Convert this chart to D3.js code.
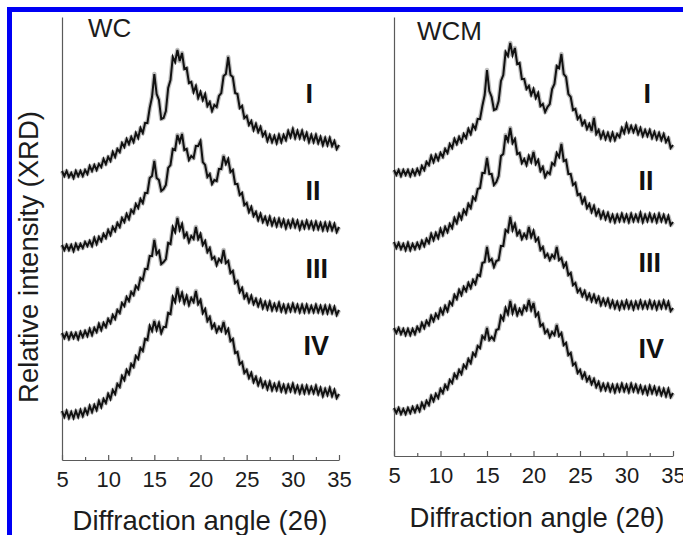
<!DOCTYPE html>
<html>
<head>
<meta charset="utf-8">
<script src="https://cdn.jsdelivr.net/npm/d3@7"></script>
<style>
  body { margin: 0; background: #fff; }
  svg { display: block; }
</style>
</head>
<body>
<div id="chart-container"></div>
<script>
// =====================
// Data (a.u.)
// =====================
// sampling grid of the patterns, 2θ in degrees
const ANGLES = d3.range(5, 35.0001, 0.25);

const SAMPLES = ["I", "II", "III", "IV"];
// vertical stacking offset of each pattern
const OFFSETS = [280, 210, 120, 40];

const X_TICKS = [5, 10, 15, 20, 25, 30, 35];
const X_MINOR = [7.5, 12.5, 17.5, 22.5, 27.5, 32.5];

// WC panel
const WC_I = [9,4,9,3,7,2,9,4,9,4, 10,6,14,9,15,10,16,13,21,16,
  23,19,28,23,31,28,37,33,41,36, 43,38,47,42,52,47,57,57,72,83,
  106,86,80,61,62,69,92,100,123,118, 130,119,127,111,112,97,98,88,94,82,
  88,80,86,74,78,69,75,73,84,87, 104,106,123,105,103,87,86,72,74,62,
  64,55,59,50,56,48,53,44,48,39, 45,38,44,37,45,38,45,40,49,43,
  51,42,49,42,49,41,47,38,45,38, 45,37,43,35,42,35,42,34,39,31, 35];
const WC_II = [5,0,5,0,5,-1,6,1,6,2, 8,4,9,4,12,6,13,9,16,12,
  20,15,23,19,27,23,32,28,36,31, 40,37,46,42,51,47,57,57,72,74,
  89,72,70,59,61,65,82,85,101,100, 115,108,116,100,101,90,94,92,104,104,
  109,88,85,73,76,66,70,69,81,81, 94,86,91,78,80,66,66,55,57,45,
  47,38,43,34,38,30,36,28,33,26, 33,25,31,24,31,24,30,22,29,23,
  30,23,29,21,28,22,29,22,28,21, 28,21,27,20,27,20,27,20,26,18, 23];
const WC_III = [7,2,7,1,7,2,7,1,8,3, 9,4,11,5,12,8,16,10,17,13,
  21,17,25,21,30,27,37,34,43,39, 48,45,54,51,62,60,71,71,84,84,
  100,86,89,76,78,81,97,96,113,108, 122,110,116,103,107,98,104,101,113,101,
  106,95,99,88,92,81,83,75,81,78, 90,77,79,67,69,57,59,48,52,42,
  46,38,44,36,41,34,40,32,38,31, 38,30,36,30,37,29,35,28,35,29,
  36,29,35,28,35,28,35,28,34,28, 35,28,34,27,34,27,34,27,33,25, 30];
const WC_IV = [9,3,9,2,8,2,9,3,10,4, 11,6,14,8,15,10,19,13,21,17,
  26,21,30,26,36,33,44,40,50,46, 56,53,64,61,72,69,81,80,94,89,
  99,90,97,87,93,93,107,106,123,118, 132,120,127,117,124,115,122,118,129,116,
  120,107,111,99,103,92,96,88,93,89, 98,87,91,79,81,67,68,56,58,47,
  50,42,47,38,43,35,41,33,38,31, 38,30,36,30,37,29,35,28,35,29,
  36,28,34,27,34,27,34,27,33,27, 34,26,32,24,31,25,32,24,30,22, 26];

// WCM panel
const WCM_I = [6,1,6,0,6,1,6,0,6,1, 7,2,10,6,14,11,20,14,21,16,
  23,19,27,23,32,28,37,32,39,34, 42,38,47,42,51,47,57,57,70,81,
  106,85,79,66,67,75,95,101,124,120, 133,121,128,112,113,97,97,87,90,81,
  87,78,83,70,72,64,69,72,87,92, 110,108,122,102,99,82,79,66,67,57,
  60,51,55,47,52,45,58,42,46,38, 44,37,43,36,43,36,42,39,48,43,
  52,44,50,44,50,42,48,40,46,40, 46,38,44,37,43,36,42,34,38,28, 31];
const WCM_II = [4,-2,3,-3,2,-4,3,-4,2,-3, 3,-2,5,0,7,3,12,6,13,8,
  17,11,19,14,22,18,28,23,32,27, 36,32,42,38,49,46,57,58,73,73,
  88,72,72,61,64,70,90,92,111,105, 118,103,107,92,93,83,87,81,90,84,
  94,82,86,75,79,69,74,72,83,81, 93,89,102,85,86,72,72,61,63,51,
  52,43,48,38,42,34,40,31,36,28, 34,27,33,25,31,24,31,25,32,25,
  31,24,32,25,31,25,33,24,31,25, 32,25,31,24,32,25,31,24,30,21, 24];
const WCM_III = [8,3,8,2,7,1,7,1,7,2, 9,5,13,8,15,11,20,15,22,18,
  27,22,30,25,34,31,41,37,46,41, 49,45,53,48,56,52,61,60,73,74,
  89,75,77,69,75,76,90,90,106,104, 119,106,112,101,105,97,102,98,109,99,
  105,95,98,86,89,79,82,76,81,78, 89,76,78,69,73,61,63,51,53,44,
  47,40,45,37,42,35,41,34,39,31, 37,31,37,29,35,28,34,27,34,28,
  35,28,34,27,34,28,35,28,34,28, 35,28,34,27,34,28,35,28,34,25, 28];
const WCM_IV = [8,3,8,2,7,2,8,3,9,4, 10,5,13,8,15,11,20,15,22,18,
  27,23,31,27,36,33,42,38,46,42, 51,48,57,53,63,60,70,68,80,77,
  88,76,79,76,86,87,100,96,108,102, 115,103,110,101,107,102,110,106,116,106,
  113,100,103,90,92,83,86,79,84,81, 91,80,83,71,73,61,63,51,53,43,
  46,38,43,35,39,32,37,29,34,26, 32,26,32,25,31,24,31,25,32,25,
  31,24,32,25,31,24,30,23,29,22, 30,23,29,22,28,21,27,20,27,19, 23];

// sample label anchors (2θ, a.u.)
const WC_LABEL_AT = [[31.37, 357], [31.37, 260], [31.37, 182], [31.15, 105]];
const WCM_LABEL_AT = [[31.83, 353], [31.29, 266], [31.29, 184], [31.29, 98]];

const X_LABEL = "Diffraction angle (2\u03b8)";
const Y_LABEL = "Relative intensity (XRD)";

// =====================
// Layout
// =====================
const svgWidth = 683;
const svgHeight = 535;
const FONT = "'Liberation Sans', Arial, Helvetica, sans-serif";
const INK = "#1c1c1c";

const panels = [
  { name: "WC", series: [WC_I, WC_II, WC_III, WC_IV], labels: WC_LABEL_AT,
    left: 62, right: 339, bottom: 460, top: 17, yMax: 443,
    nameX: 88, nameY: 37, titleX: 200, titleY: 530 },
  { name: "WCM", series: [WCM_I, WCM_II, WCM_III, WCM_IV], labels: WCM_LABEL_AT,
    left: 394, right: 673, bottom: 456, top: 17, yMax: 439,
    nameX: 417, nameY: 40, titleX: 537, titleY: 527 }
];

const container = d3.select("#chart-container");
const svg = container.append("svg")
  .attr("width", svgWidth)
  .attr("height", svgHeight)
  .style("font-family", FONT);

svg.append("rect")
  .attr("width", svgWidth).attr("height", svgHeight)
  .attr("fill", "#fff");

// blue frame (top and left edges only, the rest is cropped)
svg.append("rect")
  .attr("x", 7).attr("y", 7)
  .attr("width", svgWidth - 7).attr("height", 5)
  .attr("fill", "#0000f5");
svg.append("rect")
  .attr("x", 7).attr("y", 7)
  .attr("width", 5).attr("height", svgHeight - 7)
  .attr("fill", "#0000f5");

// y label, shared
svg.append("text")
  .attr("transform", "translate(38,257) rotate(-90)")
  .attr("text-anchor", "middle")
  .attr("font-size", 27.5)
  .attr("fill", INK)
  .text(Y_LABEL);

panels.forEach(p => {
  const x = d3.scaleLinear().domain([5, 35]).range([p.left, p.right]);
  const y = d3.scaleLinear().domain([0, p.yMax]).range([p.bottom, p.top]);

  const g = svg.append("g");

  // axes
  const minor = g.append("g")
    .attr("transform", `translate(0,${p.bottom})`)
    .call(d3.axisBottom(x).tickValues(X_MINOR).tickSize(-3).tickSizeOuter(0).tickFormat(""));
  minor.select(".domain").remove();

  const major = g.append("g")
    .attr("transform", `translate(0,${p.bottom})`)
    .call(d3.axisBottom(x).tickValues(X_TICKS).tickSize(-5).tickSizeOuter(0).tickPadding(11));

  g.append("g")
    .attr("transform", `translate(${p.left},0)`)
    .call(d3.axisLeft(y).tickValues([]).tickSizeOuter(0));

  g.selectAll(".domain, .tick line")
    .attr("stroke", "#5a5a5a")
    .attr("stroke-width", 1.2);

  major.selectAll("text")
    .attr("font-size", 22)
    .attr("font-family", FONT)
    .attr("fill", INK);

  // x title
  g.append("text")
    .attr("x", p.titleX)
    .attr("y", p.titleY)
    .attr("text-anchor", "middle")
    .attr("font-size", 27.5)
    .attr("fill", INK)
    .text(X_LABEL);

  // panel name
  g.append("text")
    .attr("x", p.nameX)
    .attr("y", p.nameY)
    .attr("font-size", 26)
    .attr("fill", INK)
    .text(p.name);

  // patterns: grey halo under a dark trace, like the noisy scan band
  p.series.forEach((vals, i) => {
    const line = d3.line()
      .x((d, j) => x(ANGLES[j]))
      .y(d => y(d + OFFSETS[i]));
    g.append("path")
      .datum(vals)
      .attr("d", line)
      .attr("fill", "none")
      .attr("stroke", "#8a8a8a")
      .attr("stroke-opacity", 0.55)
      .attr("stroke-width", 4.5)
      .attr("stroke-linejoin", "round");
    g.append("path")
      .datum(vals)
      .attr("d", line)
      .attr("fill", "none")
      .attr("stroke", "#111")
      .attr("stroke-width", 2)
      .attr("stroke-linejoin", "miter");
  });

  // sample labels
  g.selectAll("text.sample")
    .data(SAMPLES)
    .join("text")
    .attr("class", "sample")
    .attr("x", (d, i) => x(p.labels[i][0]))
    .attr("y", (d, i) => y(p.labels[i][1]))
    .attr("font-size", 27)
    .attr("font-weight", 700)
    .attr("fill", "#111")
    .text(d => d);
});
</script>
</body>
</html>
